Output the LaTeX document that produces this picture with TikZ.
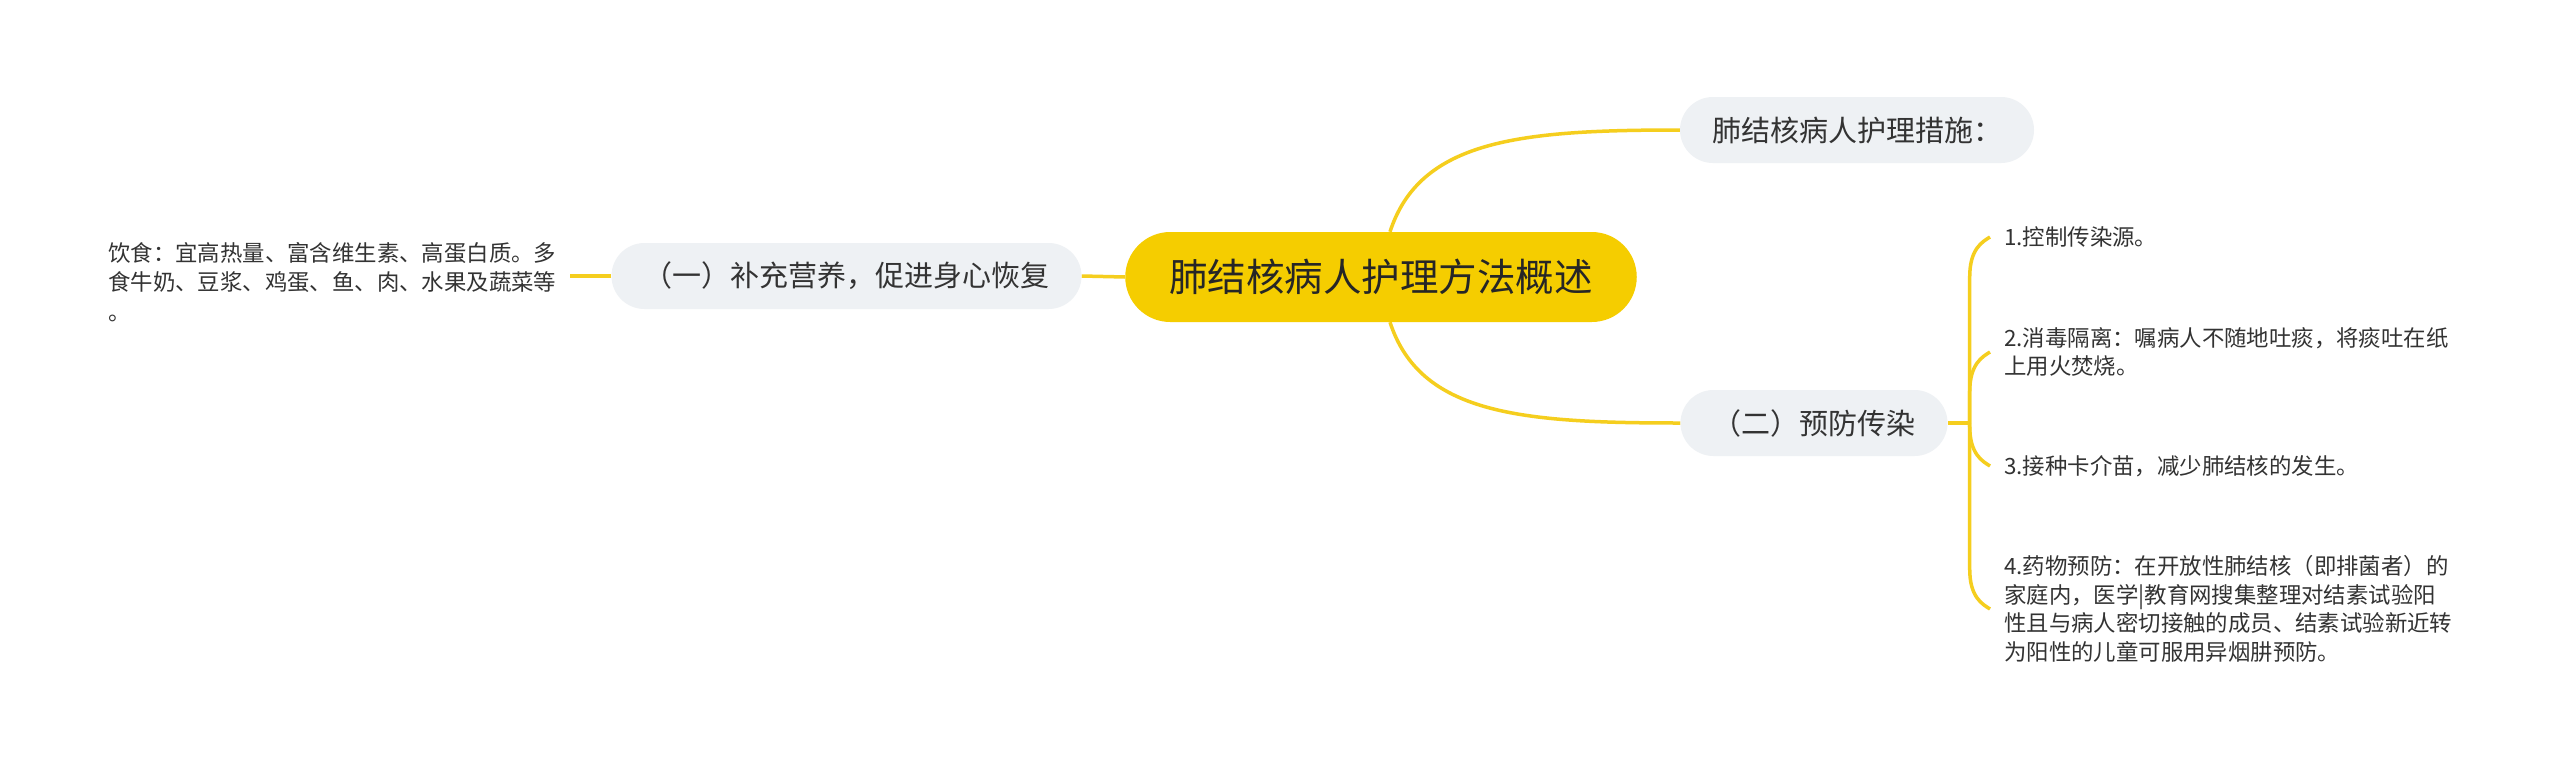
\documentclass[tikz,border=0pt]{standalone}
\usepackage{fontspec}
\newfontfamily\cjk{Noto Sans CJK SC}
\usetikzlibrary{calc,backgrounds}
\definecolor{rootyellow}{RGB}{245,205,0}
\definecolor{linkyellow}{RGB}{245,206,30}
\definecolor{bubblegray}{RGB}{238,241,244}
\definecolor{inkgray}{RGB}{51,51,51}

\begin{document}
\begin{tikzpicture}[x=1pt, y=-1pt,
    link/.style={draw=linkyellow, line width=3.5pt},
    rootbox/.style={fill=rootyellow, rounded corners=45pt, minimum height=90pt, inner xsep=44pt,
      text=black!85, font=\cjk\fontsize{38.5}{46}\selectfont},
    bubble/.style={fill=bubblegray, rounded corners=33pt, minimum height=66pt, inner xsep=32pt,
      font=\cjk\fontsize{29}{35}\selectfont},
    leaf/.style={inner xsep=14pt, inner ysep=0pt, align=left, anchor=west,
      font=\cjk\fontsize{22.4}{28.5}\selectfont}]
      \begin{scope}[every node/.style={text=inkgray}]
        \node[rootbox] (root) at (1381,277) {肺结核病人护理方法概述};
        \node[bubble] (cuoshi) at (1857,130) {肺结核病人护理措施：};
        \node[bubble] (yufang) at (1814,423) {（二）预防传染};
        \node[bubble] (yingyang) at (846.5,276) {（一）补充营养，促进身心恢复};
        \node[leaf, font=\cjk\fontsize{22.4}{29.5}\selectfont] (yinshi) at (94,282)
          {饮食：宜高热量、富含维生素、高蛋白质。多\\食牛奶、豆浆、鸡蛋、鱼、肉、水果及蔬菜等\\。};
        \node[leaf] (c1) at (1990,237) {1.控制传染源。};
        \node[leaf] (c2) at (1990,352) {2.消毒隔离：嘱病人不随地吐痰，将痰吐在纸\\上用火焚烧。};
        \node[leaf] (c3) at (1990,466) {3.接种卡介苗，减少肺结核的发生。};
        \node[leaf] (c4) at (1990,609)
          {4.药物预防：在开放性肺结核（即排菌者）的\\家庭内，医学|教育网搜集整理对结素试验阳\\性且与病人密切接触的成员、结素试验新近转\\为阳性的儿童可服用异烟肼预防。};
      \end{scope}
      \begin{scope}[on background layer]
        \fill[white] (0,0) rectangle (2560,774);
        \draw[link] ([xshift=9pt]root.north) .. controls +(30,-92) and +(-160,0) .. (cuoshi.west);
        \draw[link] ([xshift=9pt]root.south) .. controls +(30,92) and +(-160,0) .. (yufang.west);
        \draw[link] (yingyang.east) -- (root.west);
        \draw[link] (yingyang.west) -- (yingyang.west -| yinshi.east);
        \coordinate (fork) at ([xshift=22pt]yufang.east);
        \draw[link] (yufang.east) -- (fork);
        \foreach \c/\s in {c1/1,c2/1,c3/-1,c4/-1}
          \draw[link] (fork) -- ($(fork |- \c.west)+(0,40*\s)$)
            .. controls ($(fork |- \c.west)+(0,12*\s)$) and ($(\c.west)+(-8,5*\s)$) .. (\c.west);
      \end{scope}
    \end{tikzpicture}
\end{document}
